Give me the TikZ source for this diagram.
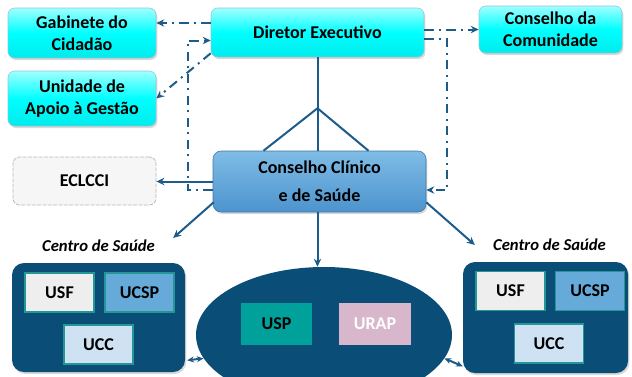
\documentclass[tikz,border=0pt]{standalone}
\usepackage{fontspec}
\setmainfont{Carlito}
\usetikzlibrary{arrows.meta,shapes.geometric,shadows,calc}

\definecolor{linkc}{RGB}{28,92,138}
\definecolor{navy}{RGB}{10,78,120}
\definecolor{cyanhi}{RGB}{160,255,255}
\definecolor{cyanlo}{RGB}{0,236,236}
\definecolor{ccshi}{RGB}{128,188,230}
\definecolor{ccslo}{RGB}{76,148,206}
\definecolor{usfc}{RGB}{238,238,238}
\definecolor{ucspc}{RGB}{102,170,218}
\definecolor{uccc}{RGB}{207,226,243}
\definecolor{uspc}{RGB}{0,160,155}
\definecolor{urapc}{RGB}{216,182,203}
\definecolor{unitedge}{RGB}{35,150,150}

\tikzset{
  txt/.style={font=\fontsize{13.5}{16.5}\selectfont\bfseries, align=center, inner sep=0pt},
  softshadow/.style={drop shadow={opacity=0.3, shadow xshift=1pt, shadow yshift=-1.5pt}},
  cyanbox/.style={txt, rounded corners=5pt, top color=cyanhi, bottom color=cyanlo,
    middle color=cyan, draw=cyan!70!black!50, line width=0.4pt, softshadow},
  ccsbox/.style={txt, font=\fontsize{13.5}{21}\selectfont\bfseries, rounded corners=6pt,
    top color=ccshi, bottom color=ccslo, draw=ccslo!80!black, line width=0.4pt, softshadow},
  eclbox/.style={txt, rounded corners=5pt, fill=gray!7, draw=gray!55,
    dash pattern=on 3pt off 1pt, line width=0.6pt},
  centro/.style={fill=navy, rounded corners=9pt, inner sep=0pt, softshadow},
  unitbox/.style={txt, draw=unitedge, line width=1pt, minimum width=51.75pt, minimum height=29.25pt},
  lbl/.style={font=\fontsize{12.5}{15}\selectfont\bfseries\itshape, inner sep=0pt},
  wire/.style={draw=linkc, line width=1.5pt},
  tip/.style={-{Stealth[length=6pt,width=5.5pt]}},
  twotip/.style={{Stealth[length=5pt,width=4.5pt]}-{Stealth[length=5pt,width=4.5pt]}},
  dashdot/.style={wire, dash pattern=on 7pt off 4pt on 1.5pt off 4pt},
}

\begin{document}
\begin{tikzpicture}[x=0.75pt, y=-0.75pt]
\clip (0,0) rectangle (632,376);

% management level
\node[cyanbox, minimum width=111pt, minimum height=37.5pt] (gab) at (82,33) {Gabinete do\\Cidadão};
\node[cyanbox, minimum width=111pt, minimum height=41.25pt] (uag) at (82,98.5) {Unidade de\\Apoio à Gestão};
\node[cyanbox, minimum width=159.75pt, minimum height=36.75pt] (dir) at (317.5,32.5) {Diretor Executivo};
\node[cyanbox, minimum width=107.25pt, minimum height=35.25pt] (com) at (550.5,29.5) {Conselho da\\Comunidade};

% clinical council and ECLCCI
\node[eclbox, minimum width=107.25pt, minimum height=36pt] (ecl) at (84.5,181) {ECLCCI};
\node[ccsbox, minimum width=159.75pt, minimum height=45.75pt] (ccs) at (319.5,181.5) {Conselho Clínico\\e de Saúde};

% health centres
\node[lbl] (lblL) at (98.5,246) {Centro de Saúde};
\node[lbl] (lblR) at (549.5,245) {Centro de Saúde};

\node[centro, minimum width=129.75pt, minimum height=81.75pt] (cL) at (98.5,317.5) {};
\node[unitbox, fill=usfc] (usfL) at (59.5,292.5) {USF};
\node[unitbox, fill=ucspc] (ucspL) at (139.5,292.5) {UCSP};
\node[unitbox, fill=uccc] (uccL) at (98.5,344.5) {UCC};

\node[centro, minimum width=123.75pt, minimum height=83.25pt] (cR) at (545.5,317.5) {};
\node[unitbox, fill=usfc] (usfR) at (510.5,291) {USF};
\node[unitbox, fill=ucspc] (ucspR) at (590,291) {UCSP};
\node[unitbox, fill=uccc] (uccR) at (549,343.5) {UCC};

% shared units
\node[ellipse, fill=navy, minimum width=192pt, minimum height=102pt, inner sep=0pt] (ell) at (324,335) {};
\node[txt, fill=uspc, minimum width=53.25pt, minimum height=31.5pt] (usp) at (276.5,324) {USP};
\node[txt, fill=urapc, text=white, minimum width=54pt, minimum height=31.5pt] (urap) at (375,324) {URAP};

% hierarchy lines
\coordinate (apex) at ($(dir.south)+(0,51)$);
\draw[wire] (dir.south) -- (apex);
\draw[wire] (apex) -- (apex |- ccs.north);
\draw[wire] (apex) -- ($(ccs.north)+(-56,0)$);
\draw[wire] (apex) -- ($(ccs.north)+(49,0)$);
\draw[wire, tip] (apex |- ccs.south) -- (apex |- ell.north);
\draw[wire, tip] (ccs.west) -- (ccs.west -| ecl.east);
\draw[wire, tip] ($(ccs.south west)+(1,-10)$) -- ($(lblL.east)+(18,-8)$);
\draw[wire, tip] ($(ccs.south east)+(0,-10)$) -- ($(lblR.west)+(-18,0)$);
\draw[wire, twotip] ($(cL.south east)+(2,-12)$) -- (ell.191);
\draw[wire, twotip] (ell.349) -- ($(cR.south west)+(0,-7)$);

% advisory links
\coordinate (g1) at ($(gab.east)+(0,-10)$);
\draw[dashdot, tip] (g1 -| dir.west) -- (g1);
\draw[dashdot, tip] ($(dir.south west)+(0,-4)$) -- (uag.east);
\draw[dashdot, tip] ($(ccs.west)+(0,8.5)$) -- ++(-25,0) |- ($(dir.west)+(0,8)$);
\draw[dashdot, tip] (com.west -| dir.east) -- (com.west);
\draw[dashdot, tip] ($(dir.east)+(0,6.5)$) -- ++(23,0) |- ($(ccs.east)+(0,8.5)$);
\end{tikzpicture}
\end{document}
